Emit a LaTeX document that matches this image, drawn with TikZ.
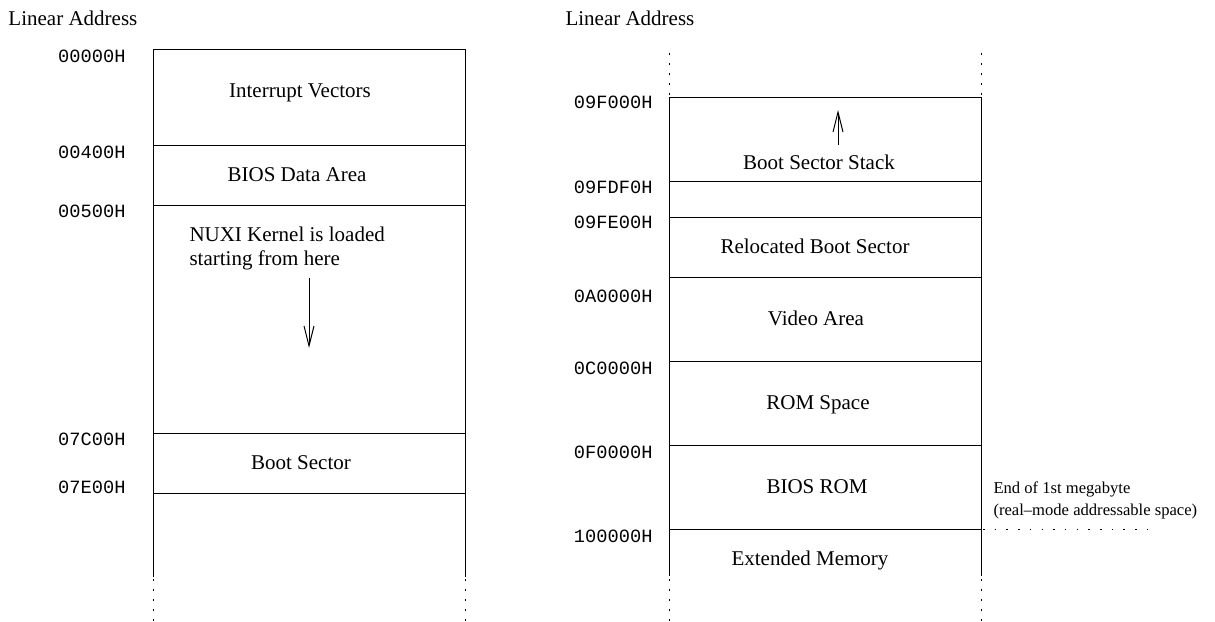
\documentclass[tikz,border=0pt]{standalone}
\usepackage{fontspec}
\setmainfont{Liberation Serif}
\setmonofont{Liberation Mono}
\usetikzlibrary{arrows.meta}

\begin{document}
\begin{tikzpicture}[x=1pt, y=-1pt, line width=1pt,
  title/.style={font=\fontsize{21}{24}\selectfont, anchor=base west, inner sep=0pt},
  cell/.style={font=\fontsize{21}{24}\selectfont, anchor=base, inner sep=0pt},
  addr/.style={font=\ttfamily\fontsize{18.7}{22}\selectfont, anchor=base east, inner sep=0pt},
  note/.style={font=\fontsize{16.6}{20}\selectfont, anchor=base west, inner sep=0pt},
  vdots/.style={line width=1pt, dash pattern=on 1.5pt off 8.5pt},
  hdots/.style={line width=1pt, dash pattern=on 1.5pt off 10.2pt},
  growarrow/.style={-{Straight Barb[length=20pt, width=10pt, line width=1pt]}}]
\useasboundingbox (0,0) rectangle (1215,621);

% ---------- lower memory (left column) ----------
\node[title] (lt) at (8,25) {Linear Address};

\draw (153,577) -- (153,49) -- (465,49) -- (465,577);
\foreach \y in {145,205,433,493} \draw (153,\y) -- (465,\y);
\draw[vdots] (153,579) -- (153,621);
\draw[vdots] (465,579) -- (465,621);

\node[addr] (a0) at (126,62)  {00000H};
\node[addr] (a1) at (126,158) {00400H};
\node[addr] (a2) at (126,217) {00500H};
\node[addr] (a3) at (126,445) {07C00H};
\node[addr] (a4) at (126,493) {07E00H};

\node[cell] (ivt)  at (300,97)  {Interrupt Vectors};
\node[cell] (bda)  at (297,181) {BIOS Data Area};
\node[cell] (boot) at (301,469) {Boot Sector};
% two-line label: its base anchor sits on the last line
\node[font=\fontsize{21}{24}\selectfont, anchor=base west, inner sep=0pt,
      align=left] (kern) at (189,265) {NUXI Kernel is loaded\\starting from here};

\coordinate (kfrom) at (309,278);
\coordinate (kto)   at (309,348);
\draw[growarrow] (kfrom) -- (kto);

% ---------- upper memory (right column) ----------
\node[title] (rt) at (565,25) {Linear Address};

\draw (669,576) -- (669,97) -- (981,97) -- (981,576);
\foreach \y in {181,217,277,361,445,529} \draw (669,\y) -- (981,\y);
\draw[vdots] (669,53) -- (669,97);
\draw[vdots] (981,53) -- (981,97);
\draw[vdots] (669,579) -- (669,621);
\draw[vdots] (981,579) -- (981,621);

\node[addr] (b0) at (653,108) {09F000H};
\node[addr] (b1) at (653,193) {09FDF0H};
\node[addr] (b2) at (653,228) {09FE00H};
\node[addr] (b3) at (653,302) {0A0000H};
\node[addr] (b4) at (653,374) {0C0000H};
\node[addr] (b5) at (653,458) {0F0000H};
\node[addr] (b6) at (653,542) {100000H};

\node[cell] (stack) at (819,169) {Boot Sector Stack};
\node[cell] (reloc) at (815,253) {Relocated Boot Sector};
\node[cell] (video) at (816,325) {Video Area};
\node[cell] (rom)   at (818,409) {ROM Space};
\node[cell] (bios)  at (817,493) {BIOS ROM};
\node[cell] (ext)   at (810,565) {Extended Memory};

\coordinate (sfrom) at (838,145);
\coordinate (sto)   at (838,110);
\draw[growarrow] (sfrom) -- (sto);

% end of the real-mode address space
\node[note] (mb1) at (993,493) {End of 1st megabyte};
\node[note] (mb2) at (993,515) {(real\textendash mode addressable space)};
\coordinate (mbl) at (983,529);
\coordinate (mbr) at (1150,529);
\draw[hdots] (mbl) -- (mbr);
\end{tikzpicture}
\end{document}
